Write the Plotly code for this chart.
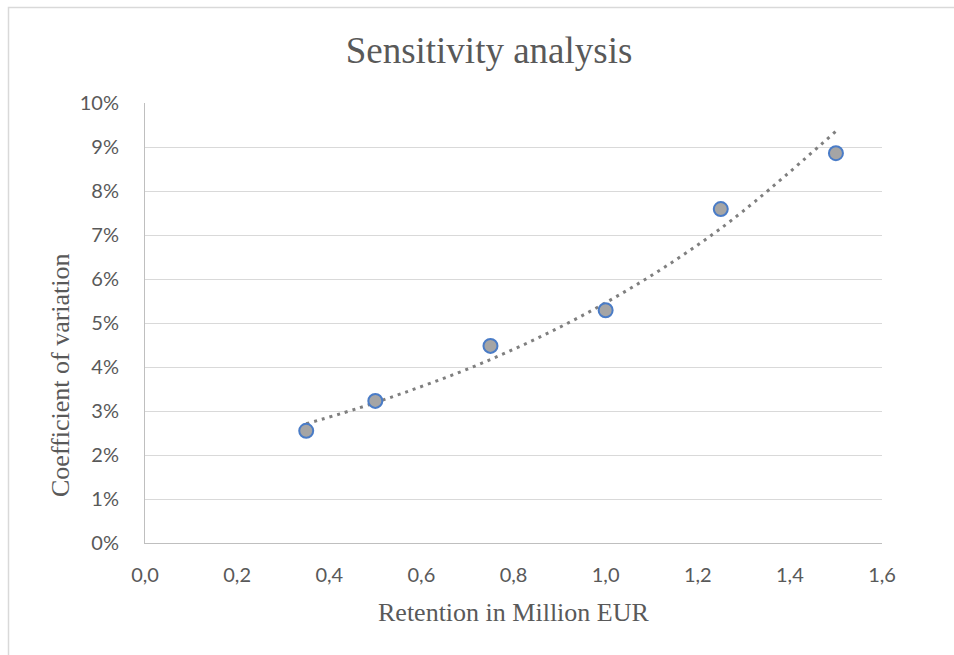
import plotly.graph_objects as go

# Data
retention = [0.35, 0.5, 0.75, 1.0, 1.25, 1.5]
cov_pct = [2.55, 3.23, 4.48, 5.29, 7.59, 8.86]
# Exponential trendline
trend_x = [0.35, 0.5, 0.75, 1.0, 1.25, 1.5]
trend_y = [2.71, 3.19, 4.17, 5.46, 7.15, 9.36]
x_ticks = [0.0, 0.2, 0.4, 0.6, 0.8, 1.0, 1.2, 1.4, 1.6]
x_tick_labels = ["0,0", "0,2", "0,4", "0,6", "0,8", "1,0", "1,2", "1,4", "1,6"]
y_ticks = list(range(0, 11))
y_tick_labels = [f"{v}%" for v in y_ticks]

W, H = 954, 655
L, R, T, B = 145, 72, 103, 112
pw, ph = W - L - R, H - T - B

fig = go.Figure()
fig.add_trace(go.Scatter(
    x=trend_x, y=trend_y, mode="lines", line_shape="spline",
    line=dict(color="#7f7f7f", width=3, dash="3px,5px"), hoverinfo="skip"))
fig.add_trace(go.Scatter(
    x=retention, y=cov_pct, mode="markers",
    marker=dict(size=14, color="#a5a5a5", line=dict(color="#4a7cc7", width=2))))

tickfont = dict(family="Lato, Open Sans, sans-serif", size=20, color="#595959")
fig.update_xaxes(range=[0, 1.6], tickvals=x_ticks, ticktext=x_tick_labels,
                 showgrid=False, zeroline=False, showline=True, linecolor="#bfbfbf",
                 linewidth=1, tickfont=tickfont, ticklabelstandoff=14)
fig.update_yaxes(range=[0, 10], tickvals=y_ticks, ticktext=y_tick_labels,
                 showgrid=True, gridcolor="#d9d9d9", gridwidth=1, zeroline=False,
                 showline=True, linecolor="#bfbfbf", linewidth=1, tickfont=tickfont,
                 ticklabelstandoff=21)


def px_x(p):
    return (p - L) / pw


def px_y(p):
    return (H - B - p) / ph


serif = "Liberation Serif, Times New Roman, serif"
fig.update_layout(
    width=W, height=H, margin=dict(l=L, r=R, t=T, b=B),
    paper_bgcolor="white", plot_bgcolor="white", showlegend=False,
    title=dict(text="Sensitivity analysis", x=489 / W, xanchor="center",
               y=1 - 50 / H, yanchor="middle",
               font=dict(family=serif, size=37, color="#595959")),
    shapes=[dict(type="rect", xref="paper", yref="paper",
                 x0=px_x(8.5), x1=px_x(980), y0=px_y(680), y1=px_y(7.5),
                 line=dict(color="#d9d9d9", width=1.5), fillcolor="rgba(0,0,0,0)", layer="below")],
    annotations=[
        dict(text="Retention in Million EUR", xref="paper", yref="paper",
             x=px_x(513), y=px_y(612), showarrow=False, xanchor="center", yanchor="middle",
             font=dict(family=serif, size=26, color="#595959")),
        dict(text="Coefficient of variation", xref="paper", yref="paper",
             x=px_x(60), y=px_y(375), showarrow=False, textangle=-90,
             xanchor="center", yanchor="middle",
             font=dict(family=serif, size=26, color="#595959")),
    ],
)

fig.write_html("out.html")
